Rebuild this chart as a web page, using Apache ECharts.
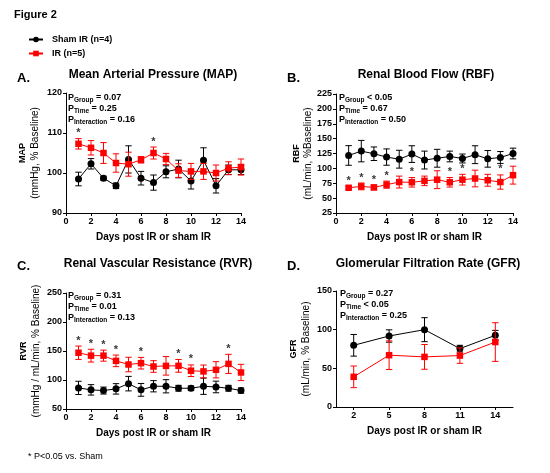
<!DOCTYPE html>
<html>
<head>
<meta charset="utf-8">
<script src="https://cdn.jsdelivr.net/npm/echarts@6/dist/echarts.min.js"></script>
<style>
html,body{margin:0;padding:0;background:#fff;}
#c{width:550px;height:473px;}
</style>
</head>
<body>
<div id="c"></div>
<script>
// ---------- DATA ----------
const days = [1,2,3,4,5,6,7,8,9,10,11,12,13,14];
const seriesNames = ['Sham IR (n=4)', 'IR (n=5)'];

// A. MAP
const mapSham    = [98.5,102.3,98.7,96.8,103.4,98.7,97.6,100.3,101.0,98.0,103.2,96.8,100.8,100.8];
const mapShamErr = [1.7,1.3,0.5,0.7,3.4,1.7,1.9,1.5,2.2,2.0,3.1,1.8,1.2,1.2];
const mapIR      = [107.3,106.3,105.0,102.5,102.2,103.3,105.0,103.5,100.6,100.4,100.4,100.0,101.2,101.5];
const mapIRErr   = [1.3,1.8,2.6,2.3,3.0,0.8,1.5,1.4,1.7,2.0,2.0,2.0,1.6,2.0];
const mapStars   = [1,7];

// B. RBF
const rbfSham    = [121.7,129,124.6,119,115.4,124,114,117,120,116.6,123,116,118.3,125];
const rbfShamErr = [16.5,18,11.4,13.7,15,14,15,15,9,7.5,15,14,10,9];
const rbfIR      = [67.4,69.7,68,72.6,77,76.6,79,81,76.6,81,83,80,77,88.6];
const rbfIRErr   = [2.5,5.7,4,6,10,8,8,15,8,9,14,10,12,15];
const rbfStars   = [1,2,3,4,6,9,10,13];

// C. RVR
const rvrSham    = [86.4,83,81.8,84.7,93.7,83,89.2,89.2,85.8,85.8,89.2,88,85.8,81.8];
const rvrShamErr = [11.4,9,6,9,12.5,11,9.7,11.4,5,4,14,10,5,4.5];
const rvrIR      = [147,142,142,133,126.7,129,123.3,124.4,124.4,116,114.8,117.6,127.8,113];
const rvrIRErr   = [11.5,11,9.5,10,12.5,10,10,16,11,10,11,14,16.5,14];
const rvrStars   = [1,2,3,4,6,9,10,13];

// D. GFR
const gfrDays    = ['2','5','8','11','14'];
const gfrSham    = [79.8,91.8,100,75.5,92.7];
const gfrShamErr = [14,8,15.5,4.3,6.4];
const gfrIR      = [39,67,64.8,66.5,84];
const gfrIRErr   = [14,18.5,16,10,25];

// P-value annotations
const pA = [['Group',' = 0.07'],['Time',' = 0.25'],['Interaction',' = 0.16']];
const pB = [['Group',' < 0.05'],['Time',' = 0.67'],['Interaction',' = 0.50']];
const pC = [['Group',' = 0.31'],['Time',' = 0.01'],['Interaction',' = 0.13']];
const pD = [['Group',' = 0.27'],['Time',' < 0.05'],['Interaction',' = 0.25']];

// ---------- CHART ----------
const FONT = 'Arial, "Liberation Sans", sans-serif';
const BLACK = '#000000', RED = '#ff0000';

const grids = [
  {left:66, top:93, width:175, height:120},
  {left:336, top:94, width:177, height:119},
  {left:66, top:293, width:175, height:116},
  {left:336, top:291, width:177, height:116}
];

const axisCommon = {
  axisLine:{show:true, onZero:false, lineStyle:{color:BLACK, width:1}},
  axisTick:{show:true, length:3, lineStyle:{color:BLACK, width:1}},
  axisLabel:{color:BLACK, fontFamily:FONT, fontSize:9, fontWeight:'bold', margin:4},
  splitLine:{show:false},
  nameTextStyle:{color:BLACK, fontFamily:FONT, fontSize:10, fontWeight:'bold'}
};

function xVal(gi){
  return Object.assign({}, axisCommon, {
    type:'value', gridIndex:gi, min:0, max:14, interval:2,
    name:'Days post IR or sham IR', nameLocation:'middle', nameGap:19
  });
}
function yAx(gi, min, max, interval, bold, rest, gap){
  return Object.assign({}, axisCommon, {
    type:'value', gridIndex:gi, min:min, max:max, interval:interval,
    name:'{b|' + bold + '}\n{n|' + rest + '}', nameLocation:'middle', nameGap:gap,
    nameTextStyle:{color:BLACK, fontFamily:FONT, rich:{
      b:{fontSize:9, fontWeight:'bold', fontFamily:FONT, color:BLACK, lineHeight:12},
      n:{fontSize:10, fontFamily:FONT, color:BLACK, lineHeight:12}
    }}
  });
}

const xAxes = [xVal(0), xVal(1), xVal(2),
  Object.assign({}, axisCommon, {
    type:'category', gridIndex:3, data:gfrDays, boundaryGap:true,
    axisTick:{show:true, length:3, alignWithLabel:true, lineStyle:{color:BLACK}},
    name:'Days post IR or sham IR', nameLocation:'middle', nameGap:19
  })
];
const yAxes = [
  yAx(0, 90, 120, 10, 'MAP', '(mmHg, % Baseline)', 25),
  yAx(1, 25, 225, 25, 'RBF', '(mL/min, %Baseline)', 20),
  yAx(2, 50, 250, 50, 'RVR', '(mmHg / mL/min, % Baseline)', 24),
  yAx(3, 0, 150, 50, 'GFR', '(mL/min, % Baseline)', 24)
];

function errRender(params, api){
  const x = api.value(0), lo = api.value(1), hi = api.value(2);
  const p1 = api.coord([x, hi]), p2 = api.coord([x, lo]);
  const c = api.visual('color');
  const w = 3.2;
  const st = {stroke:c, lineWidth:1};
  return {type:'group', children:[
    {type:'line', shape:{x1:p1[0], y1:p1[1], x2:p2[0], y2:p2[1]}, style:st},
    {type:'line', shape:{x1:p1[0]-w, y1:p1[1], x2:p1[0]+w, y2:p1[1]}, style:st},
    {type:'line', shape:{x1:p2[0]-w, y1:p2[1], x2:p2[0]+w, y2:p2[1]}, style:st}
  ]};
}

const series = [];
function addPanel(gi, xs, sham, shamErr, ir, irErr, stars){
  const shamErrData = xs.map((d,i)=>[d, sham[i]-shamErr[i], sham[i]+shamErr[i]]);
  const irErrData = xs.map((d,i)=>[d, ir[i]-irErr[i], ir[i]+irErr[i]]);
  series.push({type:'custom', name:'shamErr'+gi, xAxisIndex:gi, yAxisIndex:gi,
    renderItem:errRender, itemStyle:{color:BLACK}, data:shamErrData, z:2, silent:true});
  series.push({type:'line', name:seriesNames[0], xAxisIndex:gi, yAxisIndex:gi,
    data:xs.map((d,i)=>[d, sham[i]]), symbol:'circle', symbolSize:7,
    lineStyle:{color:BLACK, width:1}, itemStyle:{color:BLACK}, z:3, animation:false});
  series.push({type:'custom', name:'irErr'+gi, xAxisIndex:gi, yAxisIndex:gi,
    renderItem:errRender, itemStyle:{color:RED}, data:irErrData, z:4, silent:true});
  series.push({type:'line', name:seriesNames[1], xAxisIndex:gi, yAxisIndex:gi,
    data:xs.map((d,i)=>[d, ir[i]]), symbol:'rect', symbolSize:6.5,
    lineStyle:{color:RED, width:1}, itemStyle:{color:RED}, z:5, animation:false});
  if (stars && stars.length){
    series.push({type:'scatter', name:'stars'+gi, xAxisIndex:gi, yAxisIndex:gi,
      data:stars.map(d=>{const i = xs.indexOf(d); return [d, ir[i]+irErr[i]];}),
      symbolSize:0, z:6, silent:true,
      label:{show:true, formatter:'*', position:'top', distance:0,
        color:BLACK, fontFamily:FONT, fontSize:11, fontWeight:'bold'}});
  }
}
addPanel(0, days, mapSham, mapShamErr, mapIR, mapIRErr, mapStars);
addPanel(1, days, rbfSham, rbfShamErr, rbfIR, rbfIRErr, rbfStars);
addPanel(2, days, rvrSham, rvrShamErr, rvrIR, rvrIRErr, rvrStars);
addPanel(3, gfrDays, gfrSham, gfrShamErr, gfrIR, gfrIRErr, null);

function pText(x, y0, rows){
  return rows.map((r, k)=>({
    type:'text', left:null, x:x, y:y0 + k*11, silent:true,
    style:{
      text:'{m|P}{s|' + r[0] + '}{m|' + r[1] + '}',
      verticalAlign:'middle',
      rich:{
        m:{fontSize:9, fontWeight:'bold', fontFamily:FONT, fill:BLACK, color:BLACK},
        s:{fontSize:6.5, fontWeight:'bold', fontFamily:FONT, fill:BLACK, color:BLACK, padding:[4,0,0,0]}
      }
    }
  }));
}
function txt(x, y, text, size, weight, align){
  return {type:'text', x:x, y:y, silent:true, style:{text:text, fontSize:size, fontWeight:weight||'normal',
    fontFamily:FONT, fill:BLACK, align:align||'left', verticalAlign:'middle'}};
}

const graphics = [].concat(
  [txt(14, 15, 'Figure 2', 11, 'bold')],
  [txt(17, 78, 'A.', 13, 'bold'), txt(153, 75, 'Mean Arterial Pressure (MAP)', 12, 'bold', 'center')],
  [txt(287, 78, 'B.', 13, 'bold'), txt(426, 75, 'Renal Blood Flow (RBF)', 12, 'bold', 'center')],
  [txt(17, 266, 'C.', 13, 'bold'), txt(158, 264, 'Renal Vascular Resistance (RVR)', 12, 'bold', 'center')],
  [txt(287, 266, 'D.', 13, 'bold'), txt(428, 264, 'Glomerular Filtration Rate (GFR)', 12, 'bold', 'center')],
  pText(68, 98, pA), pText(339, 98, pB), pText(68, 296, pC), pText(340, 294, pD),
  [txt(28, 457, '* P<0.05 vs. Sham', 9, 'normal')]
);

const chart = echarts.init(document.getElementById('c'), null, {renderer:'canvas'});
chart.setOption({
  animation:false,
  backgroundColor:'#fff',
  textStyle:{fontFamily:FONT},
  legend:{
    data:seriesNames, orient:'vertical', left:23, top:30, itemWidth:14, itemHeight:7, itemGap:5,
    textStyle:{color:BLACK, fontFamily:FONT, fontSize:9, fontWeight:'bold', padding:[0,0,0,4]},
    selectedMode:false
  },
  grid:grids,
  xAxis:xAxes,
  yAxis:yAxes,
  series:series,
  graphic:graphics
});
</script>
</body>
</html>
